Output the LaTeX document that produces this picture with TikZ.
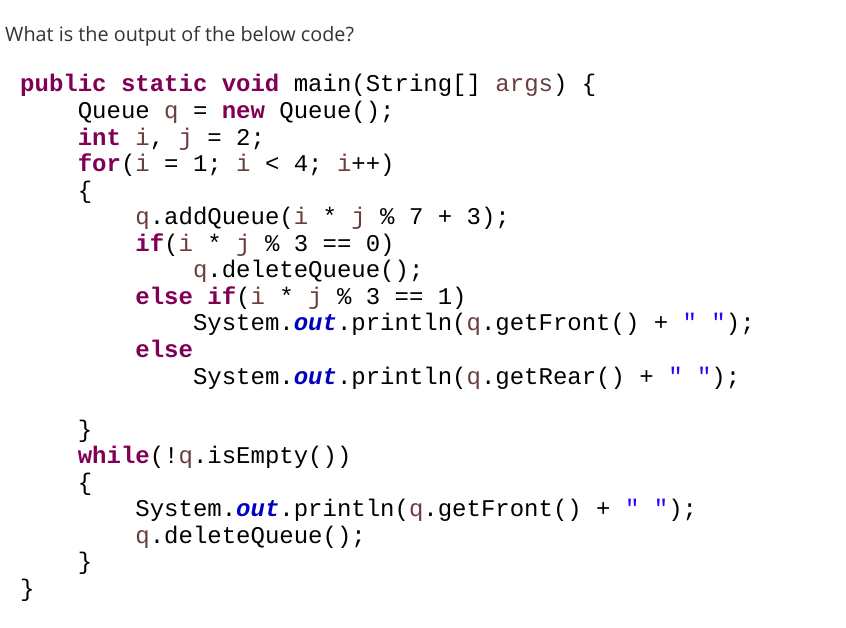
\documentclass[tikz,border=0pt]{standalone}
\usepackage{fontspec}
\setmonofont{Liberation Mono}
\newfontfamily\titlefont{Open Sans}
\definecolor{kwc}{HTML}{7F0055}
\definecolor{vac}{HTML}{6A3E3E}
\definecolor{stc}{HTML}{2A00FF}
\definecolor{ouc}{HTML}{0000C0}
\definecolor{txc}{HTML}{333333}
\newcommand{\kw}[1]{\textcolor{kwc}{\bfseries #1}}
\newcommand{\va}[1]{\textcolor{vac}{#1}}
\newcommand{\st}[1]{\textcolor{stc}{#1}}
\newcommand{\ou}[1]{\textcolor{ouc}{\bfseries\itshape #1}}
\tikzset{code/.style={anchor=base west,inner sep=0pt,font=\ttfamily\fontsize{24}{26}\selectfont}}
\begin{document}
\begin{tikzpicture}[x=1pt,y=-1pt]
\useasboundingbox (0,0) rectangle (846,628);
\node[anchor=base west,inner sep=0pt,text=txc,font=\titlefont\fontsize{19.8}{24}\selectfont] (title) at (5,42) {What is the output of the below code?};
\def\cw{14.4}
\def\ls{26.55}
\newcommand{\cl}[4]{\node[code] (#1) at ({20+#2*\cw},{92+#3*\ls}) {#4};}
\cl{l0}{0}{0}{\kw{public static void} main(String[] \va{args}) \{}
\cl{l1}{4}{1}{Queue \va{q} = \kw{new} Queue();}
\cl{l2}{4}{2}{\kw{int} \va{i}, \va{j} = 2;}
\cl{l3}{4}{3}{\kw{for}(\va{i} = 1; \va{i} < 4; \va{i}++)}
\cl{l4}{4}{4}{\{}
\cl{l5}{8}{5}{\va{q}.addQueue(\va{i} * \va{j} \% 7 + 3);}
\cl{l6}{8}{6}{\kw{if}(\va{i} * \va{j} \% 3 == 0)}
\cl{l7}{12}{7}{\va{q}.deleteQueue();}
\cl{l8}{8}{8}{\kw{else if}(\va{i} * \va{j} \% 3 == 1)}
\cl{l9}{12}{9}{System.\ou{out}.println(\va{q}.getFront() + \st{" "});}
\cl{l10}{8}{10}{\kw{else}}
\cl{l11}{12}{11}{System.\ou{out}.println(\va{q}.getRear() + \st{" "});}
\cl{l13}{4}{13}{\}}
\cl{l14}{4}{14}{\kw{while}(!\va{q}.isEmpty())}
\cl{l15}{4}{15}{\{}
\cl{l16}{8}{16}{System.\ou{out}.println(\va{q}.getFront() + \st{" "});}
\cl{l17}{8}{17}{\va{q}.deleteQueue();}
\cl{l18}{4}{18}{\}}
\cl{l19}{0}{19}{\}}
\end{tikzpicture}
\end{document}
